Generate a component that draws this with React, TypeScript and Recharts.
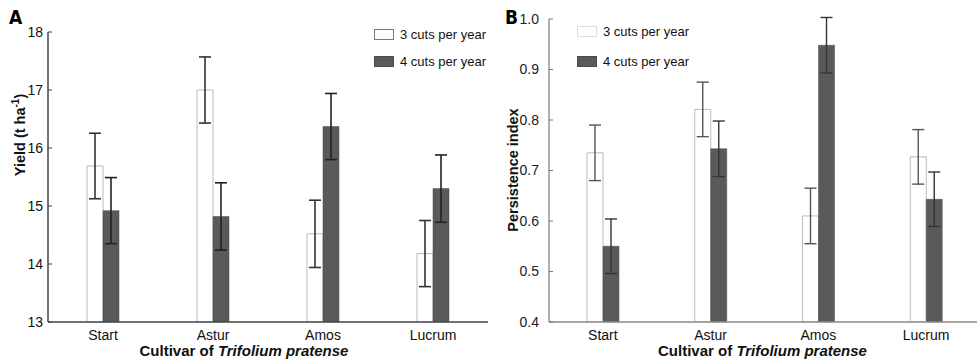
import { BarChart, Bar, XAxis, YAxis, ErrorBar, Legend } from 'recharts';

const cultivars = ['Start', 'Astur', 'Amos', 'Lucrum'];

// Panel A: yield (t/ha)
const yield3 = [15.69, 17.0, 14.52, 14.18];
const yield3Err = [0.565, 0.57, 0.58, 0.57];
const yield4 = [14.92, 14.82, 16.37, 15.3];
const yield4Err = [0.57, 0.58, 0.57, 0.58];
const yieldTicks = [13, 14, 15, 16, 17, 18];

// Panel B: persistence index
const persist3 = [0.735, 0.821, 0.61, 0.727];
const persist3Err = [0.055, 0.054, 0.055, 0.054];
const persist4 = [0.55, 0.743, 0.948, 0.643];
const persist4Err = [0.054, 0.055, 0.055, 0.054];
const persistTicks = [0.4, 0.5, 0.6, 0.7, 0.8, 0.9, 1.0];

const seriesNames = ['3 cuts per year', '4 cuts per year'];

const yieldData = cultivars.map((name, i) => ({
  name,
  v3: yield3[i],
  e3: yield3Err[i],
  v4: yield4[i],
  e4: yield4Err[i],
}));

const persistData = cultivars.map((name, i) => ({
  name,
  v3: persist3[i],
  e3: persist3Err[i],
  v4: persist4[i],
  e4: persist4Err[i],
}));

const FONT = '"Liberation Sans", Arial, sans-serif';
const DARK = '#5a5a5a';

function LegendBox({ gap, light }: { gap: number; light: string }) {
  return (
    <div style={{ fontFamily: FONT, fontSize: 13, color: '#111' }}>
      {seriesNames.map((s, i) => (
        <div key={s} style={{ display: 'flex', alignItems: 'center', height: 14, marginBottom: i === 0 ? gap : 0 }}>
          <span
            style={{
              display: 'inline-block',
              width: 18,
              height: 9,
              background: i === 0 ? '#fff' : DARK,
              border: `1px solid ${i === 0 ? light : '#4a4a4a'}`,
              marginRight: 6,
            }}
          />
          {s}
        </div>
      ))}
    </div>
  );
}

function XTitle({ viewBox, dx }: any) {
  const { x, y, width } = viewBox;
  return (
    <text x={x + width / 2 + dx} y={y + 34} textAnchor="middle" fontFamily={FONT} fontSize={15} fontWeight="bold" fill="#111">
      Cultivar of <tspan fontStyle="italic">Trifolium pratense</tspan>
    </text>
  );
}

function YTitle({ viewBox, cx, cy, children }: any) {
  const { y } = viewBox;
  const ty = y + cy;
  return (
    <text
      x={cx}
      y={ty}
      transform={`rotate(-90, ${cx}, ${ty})`}
      textAnchor="middle"
      dominantBaseline="central"
      fontFamily={FONT}
      fontSize={14.5}
      fontWeight="bold"
      fill="#111"
    >
      {children}
    </text>
  );
}

export default function App() {
  return (
    <div style={{ position: 'absolute', left: 0, top: 0, width: 977, height: 361, overflow: 'hidden', background: '#fff' }}>
      <div style={{ position: 'absolute', left: 9, top: 6, fontFamily: '"Liberation Sans Narrow", "DejaVu Sans Condensed", sans-serif', fontWeight: 'bold', fontSize: 19 }}>A</div>
      <div style={{ position: 'absolute', left: 505, top: 6, fontFamily: '"Liberation Sans Narrow", "DejaVu Sans Condensed", sans-serif', fontWeight: 'bold', fontSize: 19 }}>B</div>

      <div style={{ position: 'absolute', left: 0, top: 0 }}>
        <BarChart width={500} height={361} data={yieldData} margin={{ top: 32, right: 12, bottom: 0, left: 0 }} barGap={0} barSize={16}>
          <XAxis
            dataKey="name"
            height={39}
            tickLine={false}
            axisLine={{ stroke: '#444', strokeWidth: 1.5 }}
            tick={{ fill: '#111', fontSize: 14, fontFamily: FONT }}
            label={<XTitle dx={-24} />}
          />
          <YAxis
            width={48}
            domain={[13, 18]}
            ticks={yieldTicks}
            allowDataOverflow
            tickSize={-4}
            tickMargin={9}
            axisLine={{ stroke: '#444', strokeWidth: 1.5 }}
            tickLine={{ stroke: '#444' }}
            tick={{ fill: '#111', fontSize: 14, fontFamily: FONT }}
            label={
              <YTitle cx={20} cy={103}>
                Yield (t ha<tspan fontSize={10} dy={-5}>-1</tspan>
                <tspan dy={5}>)</tspan>
              </YTitle>
            }
          />
          <Legend
            layout="vertical"
            align="center"
            verticalAlign="middle"
            wrapperStyle={{ position: 'absolute', left: 374, top: 27, width: 'auto' }}
            content={() => <LegendBox gap={13} light="#777" />}
          />
          <Bar dataKey="v3" name={seriesNames[0]} fill="#fff" stroke="#bbb" strokeWidth={1} isAnimationActive={false}>
            <ErrorBar dataKey="e3" width={6} stroke="#333" strokeWidth={1.6} />
          </Bar>
          <Bar dataKey="v4" name={seriesNames[1]} fill={DARK} stroke="#4a4a4a" strokeWidth={0.5} isAnimationActive={false}>
            <ErrorBar dataKey="e4" width={6} stroke="#222" strokeWidth={1.6} />
          </Bar>
        </BarChart>
      </div>

      <div style={{ position: 'absolute', left: 500, top: 0 }}>
        <BarChart width={480} height={361} data={persistData} margin={{ top: 19, right: 0, bottom: 0, left: 0 }} barGap={0} barSize={16}>
          <XAxis
            dataKey="name"
            height={39}
            tickLine={false}
            axisLine={{ stroke: '#888', strokeWidth: 1.5 }}
            tick={{ fill: '#111', fontSize: 14, fontFamily: FONT }}
            label={<XTitle dx={-2} />}
          />
          <YAxis
            width={49}
            domain={[0.4, 1.0]}
            ticks={persistTicks}
            allowDataOverflow
            tickSize={-4}
            tickMargin={14}
            tickFormatter={(v: number) => v.toFixed(1)}
            axisLine={{ stroke: '#777', strokeWidth: 1.2 }}
            tickLine={{ stroke: '#777' }}
            tick={{ fill: '#222', fontSize: 14, fontFamily: FONT }}
            label={<YTitle cx={13} cy={151}>Persistence index</YTitle>}
          />
          <Legend
            layout="vertical"
            align="center"
            verticalAlign="middle"
            wrapperStyle={{ position: 'absolute', left: 77, top: 24, width: 'auto' }}
            content={() => <LegendBox gap={16} light="#ddd" />}
          />
          <Bar dataKey="v3" name={seriesNames[0]} fill="#fff" stroke="#bbb" strokeWidth={1} isAnimationActive={false}>
            <ErrorBar dataKey="e3" width={6} stroke="#555" strokeWidth={1.4} />
          </Bar>
          <Bar dataKey="v4" name={seriesNames[1]} fill={DARK} stroke="#4a4a4a" strokeWidth={0.5} isAnimationActive={false}>
            <ErrorBar dataKey="e4" width={6} stroke="#333" strokeWidth={1.4} />
          </Bar>
        </BarChart>
      </div>
    </div>
  );
}
